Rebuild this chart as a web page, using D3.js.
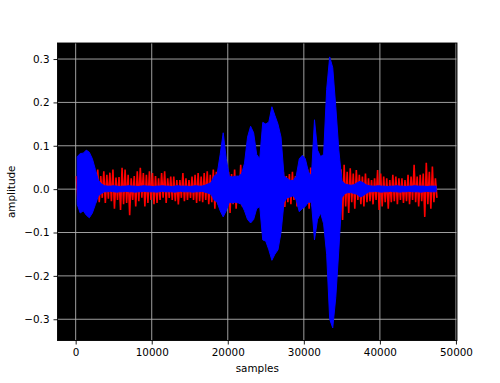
<!DOCTYPE html>
<html><head><meta charset="utf-8">
<script src="https://cdn.jsdelivr.net/npm/d3@7"></script>
<style>html,body{margin:0;padding:0;background:#fff;} svg{display:block;font-family:"DejaVu Sans",sans-serif;}</style>
</head><body><svg id="c" width="500" height="383"></svg>
<script>
// envelope of each signal per bin of 400 samples (bin i covers samples 400*i .. 400*i+400)
const binSize = 400;
const xTicks = [0, 10000, 20000, 30000, 40000, 50000];
const yTicks = [-0.3, -0.2, -0.1, 0.0, 0.1, 0.2, 0.3];
const xLabel = "samples";
const yLabel = "amplitude";

const redHi = [
 .03,.035,.03,.035,.04,.035,.035,
 .045,.03,.041,.033,.038,.045,.027,.028,.049,.045,.033,.025,.03,.041,.049,.037,.033,.041,.037,.03,.025,.037,.041,.025,.029,.029,.021,.021,.037,.025,.021,.029,.033,.037,.029,.037,.041,.033,.045,
 .04,.03,.035,.05,.04,.035,.045,.03,.056,.04,
 .03,.035,.04,.03,.035,.03,.035,.04,.03,.035,.03,.04,
 .04,.03,.035,.04,.03,.035,.03,.04,.045,.05,.04,.045,.05,
 .04,.03,.03,.03,.03,.04,
 .046,.056,.04,.048,.036,.044,.033,.029,.036,.025,.021,.025,.044,.036,.029,.025,.021,.033,.029,.025,.025,.021,.033,.029,.056,.029,.033,.036,.061,.04,.052,.025
];
const redLo = [
 -.03,-.035,-.03,-.04,-.035,-.03,-.03,
 -.03,-.02,-.032,-.022,-.028,-.045,-.025,-.048,-.035,-.032,-.06,-.025,-.04,-.028,-.02,-.04,-.032,-.025,-.035,-.032,-.025,-.02,-.032,-.02,-.025,-.028,-.035,-.02,-.028,-.025,-.02,-.025,-.032,-.028,-.03,-.025,-.035,-.03,-.045,
 -.035,-.048,-.03,-.04,-.055,-.035,-.045,-.03,-.04,-.035,
 -.03,-.035,-.04,-.03,-.035,-.03,-.035,-.04,-.03,-.035,-.03,-.04,
 -.041,-.03,-.035,-.025,-.04,-.03,-.035,-.03,-.045,-.04,-.035,-.05,-.04,
 -.04,-.03,-.03,-.03,-.03,-.04,
 -.071,-.04,-.055,-.03,-.045,-.025,-.035,-.04,-.03,-.028,-.035,-.025,-.048,-.04,-.03,-.045,-.03,-.028,-.035,-.025,-.032,-.028,-.035,-.025,-.03,-.04,-.028,-.064,-.035,-.045,-.03,-.02
];
const blueHi = [
 .075,.082,.083,.09,.085,.07,.045,.02,.012,
 .008,.007,.007,.008,.007,.006,.007,.007,.008,.007,.007,.006,.007,.008,.007,.007,.006,.007,.007,.008,.007,.007,.006,.007,.008,.007,.007,.007,.006,.007,.008,.007,.007,.009,.012,
 .015,.03,.035,.08,.13,.07,.03,.028,.03,.03,.035,.06,.12,.145,.13,.08,.07,.154,.15,.155,.19,.17,.15,.12,
 .03,.025,.02,.02,.03,.07,.078,.07,.04,.03,.16,.09,.075,.08,.23,.305,.28,.19,.09,.02,
 .012,.01,.009,.01,.015,.018,.015,.01,
 .008,.007,.007,.008,.007,.007,.006,.007,.007,.008,.007,.007,.006,.007,.007,.008,.007,.007,.007,.006,.007,.007,.007
];
const blueLo = [
 -.035,-.055,-.05,-.06,-.066,-.055,-.035,-.015,-.01,
 -.006,-.006,-.005,-.006,-.007,-.006,-.006,-.005,-.006,-.006,-.007,-.006,-.006,-.005,-.006,-.006,-.006,-.007,-.006,-.005,-.006,-.006,-.006,-.007,-.006,-.005,-.006,-.006,-.006,-.007,-.006,-.006,-.005,-.007,-.009,
 -.012,-.025,-.03,-.05,-.064,-.05,-.03,-.032,-.03,-.032,-.035,-.05,-.07,-.078,-.07,-.045,-.04,-.117,-.12,-.14,-.164,-.15,-.14,-.1,
 -.03,-.02,-.018,-.015,-.025,-.052,-.045,-.04,-.03,-.03,-.117,-.07,-.055,-.08,-.15,-.3,-.32,-.25,-.14,-.02,
 -.01,-.008,-.008,-.01,-.012,-.018,-.015,-.01,
 -.006,-.006,-.005,-.006,-.007,-.006,-.006,-.005,-.006,-.006,-.007,-.006,-.006,-.005,-.006,-.006,-.006,-.007,-.006,-.005,-.006,-.006,-.006
];

const svg = d3.select("#c");
const L = 57.5, R = 457, T = 43, B = 340.5;
const x = d3.scaleLinear().domain([-2388, 50138]).range([L, R]);
const y = d3.scaleLinear().domain([-0.349, 0.337]).range([B, T]);

svg.append("rect").attr("width", 500).attr("height", 383).attr("fill", "#fff");
svg.append("defs").append("clipPath").attr("id", "clip")
  .append("rect").attr("x", L).attr("y", T).attr("width", R - L).attr("height", B - T);
svg.append("rect").attr("x", L).attr("y", T).attr("width", R - L).attr("height", B - T).attr("fill", "#000");

// grid
const g = svg.append("g");
g.selectAll("line.gx").data(xTicks).join("line")
  .attr("x1", d => x(d)).attr("x2", d => x(d)).attr("y1", T).attr("y2", B)
  .attr("stroke", "#b0b0b0").attr("stroke-width", 0.9);
g.selectAll("line.gy").data(yTicks).join("line")
  .attr("y1", d => y(d)).attr("y2", d => y(d)).attr("x1", L).attr("x2", R)
  .attr("stroke", "#b0b0b0").attr("stroke-width", 0.9);

const plot = svg.append("g").attr("clip-path", "url(#clip)");

// red waveform: zigzag between the per-bin maximum and minimum
const redPts = [];
redHi.forEach((h, i) => {
  redPts.push([i * binSize + 100, h]);
  redPts.push([i * binSize + 300, redLo[i]]);
});
plot.append("path").datum(redPts)
  .attr("d", d3.line().x(d => x(d[0])).y(d => y(d[1])))
  .attr("fill", "none").attr("stroke", "#ff0000").attr("stroke-width", 1.6).attr("stroke-linejoin", "miter");

// blue waveform envelope
const bluePts = blueHi.map((h, i) => ({ s: i * binSize + 200, hi: h, lo: blueLo[i] }));
plot.append("path").datum(bluePts)
  .attr("d", d3.area().x(d => x(d.s)).y0(d => y(d.lo)).y1(d => y(d.hi)))
  .attr("fill", "#0000ff").attr("stroke", "#0000ff").attr("stroke-width", 1);

// axes
const xa = svg.append("g").attr("transform", `translate(0,${B})`)
  .call(d3.axisBottom(x).tickValues(xTicks).tickSize(4).tickPadding(4).tickFormat(d3.format("d")));
const ya = svg.append("g").attr("transform", `translate(${L},0)`)
  .call(d3.axisLeft(y).tickValues(yTicks).tickSize(4).tickPadding(4).tickFormat(d => d3.format(".1f")(d).replace("-", "\u2212")));
[xa, ya].forEach(a => {
  a.select(".domain").remove();
  a.selectAll("text").attr("font-size", "10.4px").attr("font-family", "DejaVu Sans").attr("fill", "#000");
  a.selectAll("line").attr("stroke", "#000").attr("stroke-width", 0.9);
});
svg.append("rect").attr("x", L).attr("y", T).attr("width", R - L).attr("height", B - T)
  .attr("fill", "none").attr("stroke", "#000").attr("stroke-width", 0.9);

svg.append("text").attr("x", (L + R) / 2).attr("y", 372).attr("text-anchor", "middle")
  .attr("font-size", "10.4px").text(xLabel);
svg.append("text").attr("transform", `translate(15,${(T + B) / 2}) rotate(-90)`).attr("text-anchor", "middle")
  .attr("font-size", "10.4px").text(yLabel);
</script>
</body></html>
